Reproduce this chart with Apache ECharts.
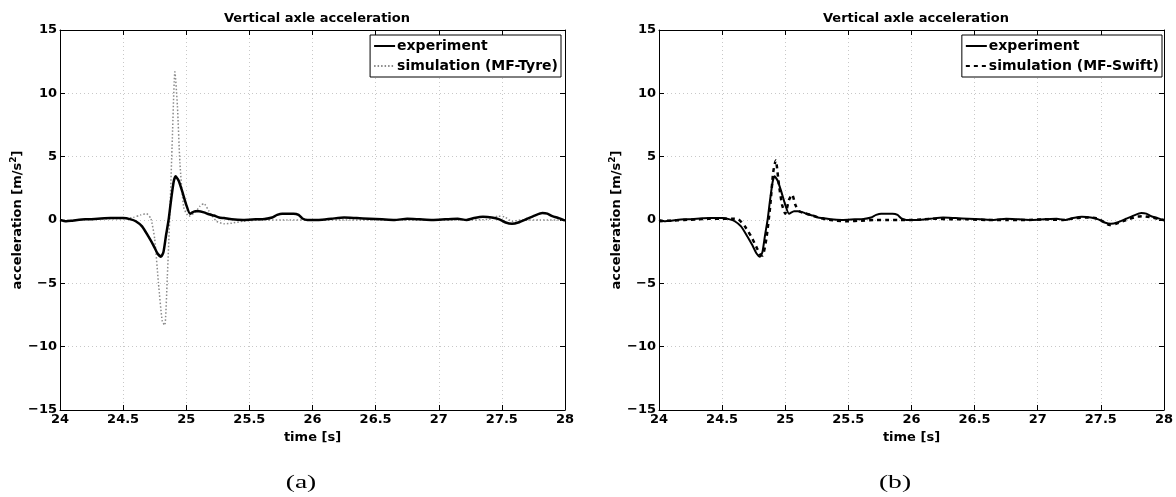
<!DOCTYPE html>
<html>
<head>
<meta charset="utf-8">
<script src="https://cdn.jsdelivr.net/npm/echarts@6/dist/echarts.min.js"></script>
<style>
  html, body { margin: 0; padding: 0; background: #fff; }
  #chart { width: 1176px; height: 497px; }
</style>
</head>
<body>
<div id="chart"></div>
<script>
// measured vertical axle acceleration (same run in both panels)
var expTime = [24.00, 24.05, 24.10, 24.20, 24.30, 24.40, 24.50, 24.56, 24.60, 24.65, 24.70, 24.74, 24.77, 24.80, 24.82, 24.84, 24.86, 24.88, 24.90, 24.915, 24.94, 24.97, 25.00, 25.03, 25.07, 25.10, 25.14, 25.18, 25.22, 25.26, 25.30, 25.36, 25.45, 25.55, 25.62, 25.68, 25.72, 25.76, 25.80, 25.85, 25.89, 25.92, 25.96, 26.05, 26.15, 26.25, 26.35, 26.45, 26.55, 26.65, 26.75, 26.85, 26.95, 27.05, 27.15, 27.22, 27.28, 27.35, 27.42, 27.48, 27.53, 27.58, 27.63, 27.70, 27.76, 27.82, 27.86, 27.90, 27.95, 28.00];
var expValue = [0.0, -0.1, -0.05, 0.05, 0.1, 0.15, 0.15, 0.05, -0.1, -0.5, -1.3, -2.0, -2.6, -2.9, -2.5, -1.2, 0.0, 1.6, 3.0, 3.45, 3.1, 2.2, 1.2, 0.5, 0.7, 0.7, 0.6, 0.45, 0.35, 0.2, 0.15, 0.05, 0.0, 0.05, 0.08, 0.2, 0.4, 0.5, 0.5, 0.5, 0.4, 0.12, 0.0, 0.0, 0.1, 0.2, 0.15, 0.1, 0.05, 0.0, 0.1, 0.05, 0.0, 0.05, 0.1, 0.0, 0.15, 0.25, 0.2, 0.05, -0.2, -0.3, -0.2, 0.1, 0.35, 0.55, 0.5, 0.3, 0.15, -0.05];

// MF-Tyre simulation (panel a)
var tyreTime = [24.00, 24.10, 24.20, 24.30, 24.40, 24.50, 24.58, 24.64, 24.685, 24.72, 24.75, 24.78, 24.81, 24.83, 24.85, 24.87, 24.89, 24.91, 24.93, 24.95, 24.98, 25.02, 25.07, 25.11, 25.14, 25.18, 25.24, 25.30, 25.36, 25.45, 25.60, 25.80, 26.00, 26.30, 26.60, 26.90, 27.20, 27.40, 27.47, 27.52, 27.58, 27.65, 27.80, 28.00];
var tyreValue = [0.0, -0.05, 0.05, 0.1, 0.1, 0.1, 0.2, 0.4, 0.5, 0.1, -1.5, -5.0, -8.0, -8.3, -4.5, 0.5, 6.5, 11.7, 9.0, 4.5, 1.0, 0.3, 0.6, 1.1, 1.3, 0.7, -0.1, -0.3, -0.25, -0.1, 0.0, 0.0, 0.0, 0.0, 0.0, 0.0, 0.0, 0.05, 0.3, 0.25, -0.1, 0.0, 0.0, 0.0];

// MF-Swift simulation (panel b)
var swiftTime = [24.00, 24.10, 24.20, 24.30, 24.40, 24.50, 24.58, 24.63, 24.68, 24.73, 24.77, 24.80, 24.82, 24.85, 24.88, 24.905, 24.925, 24.95, 24.975, 25.00, 25.03, 25.055, 25.08, 25.11, 25.15, 25.20, 25.26, 25.32, 25.40, 25.50, 25.60, 25.70, 25.80, 25.90, 26.00, 26.10, 26.20, 26.30, 26.45, 26.60, 26.75, 26.90, 27.05, 27.20, 27.30, 27.40, 27.48, 27.53, 27.57, 27.62, 27.70, 27.78, 27.84, 27.90, 27.95, 28.00];
var swiftValue = [-0.1, -0.05, 0.0, 0.05, 0.1, 0.1, 0.1, 0.05, -0.5, -1.3, -2.1, -2.7, -2.8, -1.5, 1.0, 3.8, 4.7, 2.8, 1.2, 0.5, 1.6, 2.0, 1.2, 0.7, 0.55, 0.4, 0.2, 0.05, -0.05, -0.1, -0.05, 0.0, 0.0, 0.0, 0.0, 0.05, 0.1, 0.05, 0.05, 0.0, 0.0, 0.0, 0.05, 0.0, 0.15, 0.2, 0.1, -0.2, -0.4, -0.3, 0.0, 0.25, 0.3, 0.2, 0.1, 0.0];

var panelTitle = "Vertical axle acceleration";
var xName = "time [s]";
var panelTags = ["(a)", "(b)"];

var pairs = function (ts, vs) {
  return ts.map(function (t, i) { return [t, vs[i]]; });
};

var font = "DejaVu Sans";
var grids = [
  { left: 60, top: 30, width: 505, height: 380 },
  { left: 659, top: 30, width: 505, height: 380 }
];

var minus = function (v) { return String(v).replace("-", "\u2212"); };

var xAxes = [];
var yAxes = [];
[0, 1].forEach(function (g) {
  xAxes.push({
    type: "value", gridIndex: g, min: 24, max: 28, interval: 0.5,
    name: xName, nameLocation: "middle", nameGap: 13,
    nameTextStyle: { fontFamily: font, fontWeight: "bold", fontSize: 13, color: "#000" },
    axisLine: { onZero: false, lineStyle: { color: "#000", width: 1 } },
    axisTick: { inside: true, length: 5, lineStyle: { color: "#000" } },
    axisLabel: { fontFamily: font, fontWeight: "bold", fontSize: 13, color: "#000", margin: 3, showMinLabel: true, showMaxLabel: true },
    splitLine: { show: true, lineStyle: { color: "#c8c8c8", type: [1, 3] } }
  });
  yAxes.push({
    type: "value", gridIndex: g, min: -15, max: 15, interval: 5,
    name: "acceleration [m/s{sup|2}]", nameLocation: "middle", nameGap: 32,
    nameTextStyle: { fontFamily: font, fontWeight: "bold", fontSize: 13, color: "#000",
      rich: { sup: { fontFamily: font, fontWeight: "bold", fontSize: 9, verticalAlign: "bottom", padding: [0, 0, 8, 0] } } },
    axisLine: { lineStyle: { color: "#000", width: 1 } },
    axisTick: { inside: true, length: 5, lineStyle: { color: "#000" } },
    axisLabel: { fontFamily: font, fontWeight: "bold", fontSize: 13, color: "#000", margin: 3, formatter: minus },
    splitLine: { show: true, lineStyle: { color: "#c8c8c8", type: [1, 3] } }
  });
});
// top / right edges of the box, ticks inward, no labels
[0, 1].forEach(function (g) {
  xAxes.push({
    type: "value", gridIndex: g, min: 24, max: 28, interval: 0.5, position: "top",
    axisLine: { onZero: false, lineStyle: { color: "#000", width: 1 } },
    axisTick: { inside: true, length: 5, lineStyle: { color: "#000" } },
    axisLabel: { show: false }, splitLine: { show: false }
  });
  yAxes.push({
    type: "value", gridIndex: g, min: -15, max: 15, interval: 5, position: "right",
    axisLine: { onZero: false, lineStyle: { color: "#000", width: 1 } },
    axisTick: { inside: true, length: 5, lineStyle: { color: "#000" } },
    axisLabel: { show: false }, splitLine: { show: false }
  });
});

var legendBase = {
  orient: "vertical",
  backgroundColor: "#fff",
  borderColor: "#000",
  borderWidth: 1,
  borderRadius: 0,
  padding: [4, 3, 4, 3],
  itemWidth: 21,
  itemHeight: 14,
  itemGap: 6,
  itemStyle: { opacity: 0 },
  textStyle: { fontFamily: font, fontWeight: "bold", fontSize: 14, color: "#000", padding: [0, 0, 0, -3] },
  selectedMode: false
};

var tagText = function (txt, cx) {
  return {
    type: "text", x: cx, y: 483, scaleX: 1.45, originX: 0, originY: 0,
    style: { text: txt, fontFamily: "Liberation Serif", fontSize: 19, fill: "#000",
      align: "center", verticalAlign: "middle" }
  };
};

var option = {
  animation: false,
  backgroundColor: "#fff",
  title: [
    { text: panelTitle, left: 312, top: 7, textAlign: "center",
      textStyle: { fontFamily: font, fontWeight: "bold", fontSize: 13, color: "#000" } },
    { text: panelTitle, left: 911, top: 7, textAlign: "center",
      textStyle: { fontFamily: font, fontWeight: "bold", fontSize: 13, color: "#000" } }
  ],
  graphic: [tagText(panelTags[0], 301), tagText(panelTags[1], 895)],
  legend: [
    Object.assign({}, legendBase, { right: 615, top: 35, data: ["experiment", "simulation (MF-Tyre)"] }),
    Object.assign({}, legendBase, { right: 14, top: 35, data: ["experiment ", "simulation (MF-Swift)"] })
  ],
  grid: grids,
  xAxis: xAxes,
  yAxis: yAxes,
  series: [
    { name: "simulation (MF-Tyre)", type: "line", xAxisIndex: 0, yAxisIndex: 0, symbol: "none", smooth: 0.2,
      lineStyle: { color: "#8a8a8a", width: 1.5, type: [1.5, 2] }, itemStyle: { color: "#8a8a8a" },
      data: pairs(tyreTime, tyreValue), z: 2 },
    { name: "experiment", type: "line", xAxisIndex: 0, yAxisIndex: 0, symbol: "none", smooth: 0.2,
      lineStyle: { color: "#000", width: 2.5 }, itemStyle: { color: "#000" },
      data: pairs(expTime, expValue), z: 3 },
    { name: "experiment ", type: "line", xAxisIndex: 1, yAxisIndex: 1, symbol: "none", smooth: 0.2,
      lineStyle: { color: "#000", width: 2 }, itemStyle: { color: "#000" },
      data: pairs(expTime, expValue), z: 3 },
    { name: "simulation (MF-Swift)", type: "line", xAxisIndex: 1, yAxisIndex: 1, symbol: "none", smooth: 0.2,
      lineStyle: { color: "#000", width: 2.5, type: [4, 4] }, itemStyle: { color: "#000" },
      data: pairs(swiftTime, swiftValue), z: 2 }
  ]
};

var chart = echarts.init(document.getElementById("chart"), null, { renderer: "canvas" });
chart.setOption(option);
</script>
</body>
</html>
